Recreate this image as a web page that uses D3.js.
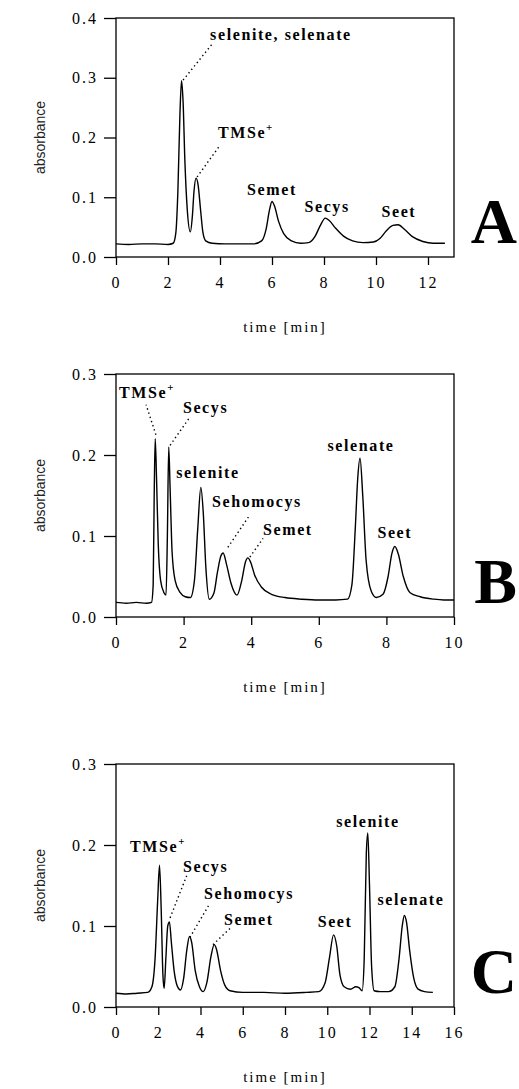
<!DOCTYPE html>
<html>
<head>
<meta charset="utf-8">
<script src="https://cdn.jsdelivr.net/npm/d3@7"></script>
<style>
  body { margin: 0; background: #fff; }
</style>
</head>
<body>
<script>
// ---- panel A : time [min] / absorbance
const aTime = [0, 0.5, 1.0, 1.5, 2.0, 2.2, 2.3, 2.38, 2.46, 2.52,
               2.58, 2.65, 2.74, 2.86, 2.94, 3.0, 3.08, 3.16, 3.25, 3.34,
               3.45, 3.7, 4.2, 4.8, 5.3, 5.6, 5.78, 5.9, 6.0, 6.1,
               6.25, 6.45, 6.75, 7.1, 7.4, 7.65, 7.85, 8.05, 8.2, 8.45,
               8.75, 9.1, 9.5, 9.9, 10.15, 10.4, 10.65, 10.85, 11.1, 11.4,
               11.8, 12.2, 12.65];
const aAbs  = [0.022, 0.021, 0.022, 0.022, 0.021, 0.023, 0.04, 0.11, 0.24, 0.295,
               0.26, 0.16, 0.08, 0.042, 0.07, 0.11, 0.132, 0.12, 0.08, 0.042,
               0.027, 0.023, 0.022, 0.022, 0.022, 0.027, 0.048, 0.078, 0.093, 0.085,
               0.06, 0.039, 0.027, 0.023, 0.024, 0.034, 0.052, 0.065, 0.061, 0.048,
               0.035, 0.027, 0.024, 0.025, 0.031, 0.044, 0.053, 0.054, 0.046, 0.034,
               0.026, 0.023, 0.023];

// ---- panel B
const bTime = [0, 0.3, 0.6, 0.9, 1.05, 1.1, 1.13, 1.16, 1.2, 1.25,
               1.32, 1.42, 1.48, 1.52, 1.56, 1.6, 1.66, 1.75, 1.9, 2.05,
               2.2, 2.32, 2.42, 2.51, 2.58, 2.66, 2.76, 2.9, 3.0, 3.1,
               3.17, 3.27, 3.4, 3.58, 3.72, 3.83, 3.9, 3.98, 4.1, 4.3,
               4.6, 5.0, 5.5, 6.0, 6.5, 6.85, 6.98, 7.08, 7.15, 7.22,
               7.3, 7.4, 7.55, 7.7, 7.9, 8.05, 8.16, 8.25, 8.35, 8.5,
               8.7, 9.0, 9.4, 9.7, 10.0];
const bAbs  = [0.018, 0.017, 0.018, 0.017, 0.018, 0.04, 0.15, 0.22, 0.17, 0.09,
               0.045, 0.03, 0.027, 0.1, 0.21, 0.16, 0.08, 0.045, 0.03, 0.025,
               0.024, 0.045, 0.11, 0.16, 0.13, 0.06, 0.022, 0.03, 0.055, 0.075,
               0.079, 0.065, 0.042, 0.027, 0.045, 0.068, 0.073, 0.068, 0.052, 0.037,
               0.028, 0.024, 0.022, 0.021, 0.021, 0.022, 0.04, 0.11, 0.17, 0.196,
               0.15, 0.07, 0.032, 0.024, 0.028, 0.05, 0.078, 0.087, 0.078, 0.05,
               0.03, 0.025, 0.022, 0.021, 0.021];

// ---- panel C
const cTime = [0, 0.5, 1.0, 1.5, 1.7, 1.85, 1.97, 2.06, 2.14, 2.22,
               2.28, 2.36, 2.45, 2.53, 2.62, 2.75, 2.9, 3.05, 3.2, 3.35,
               3.48, 3.58, 3.75, 3.95, 4.13, 4.3, 4.5, 4.65, 4.75, 4.95,
               5.15, 5.4, 6.0, 7.0, 8.0, 9.0, 9.6, 9.9, 10.1, 10.3,
               10.45, 10.6, 10.8, 11.1, 11.35, 11.5, 11.65, 11.75, 11.85, 11.92,
               12.0, 12.1, 12.22, 12.5, 12.9, 13.2, 13.4, 13.55, 13.65, 13.75,
               13.9, 14.1, 14.3, 14.6, 15.0];
const cAbs  = [0.017, 0.016, 0.017, 0.018, 0.025, 0.06, 0.13, 0.175, 0.12, 0.04,
               0.023, 0.06, 0.1, 0.105, 0.08, 0.045, 0.026, 0.021, 0.035, 0.07,
               0.087, 0.08, 0.045, 0.025, 0.019, 0.03, 0.063, 0.077, 0.072, 0.045,
               0.027, 0.02, 0.018, 0.018, 0.017, 0.018, 0.019, 0.03, 0.06, 0.089,
               0.075, 0.04, 0.025, 0.022, 0.025, 0.024, 0.02, 0.06, 0.19, 0.215,
               0.15, 0.05, 0.02, 0.019, 0.019, 0.025, 0.06, 0.1, 0.113, 0.105,
               0.07, 0.035, 0.022, 0.019, 0.018];

// axis ticks
const aYTicks = [0, 0.1, 0.2, 0.3, 0.4];
const bcYTicks = [0, 0.1, 0.2, 0.3];
const aXTicks = [0, 2, 4, 6, 8, 10, 12];
const bXTicks = [0, 2, 4, 6, 8, 10];
const cXTicks = [0, 2, 4, 6, 8, 10, 12, 14, 16];

// peak names: [text, x, y, anchor, leaderFrom, leaderTo] in data units
const aPeaks = [
  ["selenite, selenate", 3.62, 0.363, "start", [2.58, 0.296], [3.69, 0.356]],
  ["TMSe", 3.92, 0.199, "start", [3.12, 0.134], [4.0, 0.187]],
  ["Semet", 6.0, 0.104, "middle"],
  ["Secys", 8.12, 0.075, "middle"],
  ["Seet", 10.88, 0.067, "middle"]
];
const bPeaks = [
  ["TMSe", 0.09, 0.27, "start", [1.18, 0.225], [0.89, 0.262]],
  ["Secys", 1.98, 0.252, "start", [1.6, 0.212], [2.19, 0.247]],
  ["selenite", 1.78, 0.172, "start"],
  ["Sehomocys", 2.84, 0.136, "start", [3.31, 0.086], [3.96, 0.126]],
  ["Semet", 4.35, 0.101, "start", [3.96, 0.074], [4.35, 0.097]],
  ["selenate", 7.25, 0.205, "middle"],
  ["Seet", 8.25, 0.0975, "middle"]
];
const cPeaks = [
  ["TMSe", 0.66, 0.191, "start"],
  ["Secys", 3.17, 0.167, "start", [2.56, 0.11], [3.36, 0.163]],
  ["Sehomocys", 4.17, 0.133, "start", [3.5, 0.086], [4.4, 0.126]],
  ["Semet", 5.11, 0.101, "start", [4.59, 0.077], [5.4, 0.097]],
  ["Seet", 10.37, 0.099, "middle"],
  ["selenite", 11.93, 0.222, "middle"],
  ["selenate", 13.96, 0.126, "middle"]
];

const serif = "'Liberation Serif', 'Times New Roman', serif";
const ink = "#000";

const svg = d3.select("body").append("svg")
  .attr("width", 519)
  .attr("height", 1089);

function drawPanel(p) {
  const left = 116, right = 454;
  const xScale = d3.scaleLinear().domain([0, p.xMax]).range([left, right]);
  const yScale = d3.scaleLinear().domain([0, p.yMax]).range([p.bottom, p.top]);
  const g = svg.append("g");

  // frame
  g.append("rect")
    .attr("x", left).attr("y", p.top)
    .attr("width", right - left).attr("height", p.bottom - p.top)
    .attr("fill", "none").attr("stroke", ink).attr("stroke-width", 1.3);

  // y axis
  const ya = g.append("g")
    .attr("transform", `translate(${left},0)`)
    .call(d3.axisLeft(yScale).tickValues(p.yTicks).tickFormat(d3.format(".1f")).tickSize(12).tickPadding(6));
  ya.select(".domain").remove();

  // x axis
  const xa = g.append("g")
    .attr("transform", `translate(0,${p.bottom})`)
    .call(d3.axisBottom(xScale).tickValues(p.xTicks).tickSize(8).tickPadding(12));
  xa.select(".domain").remove();

  g.selectAll(".tick line").attr("stroke", ink).attr("stroke-width", 1.3);
  g.selectAll(".tick text")
    .attr("fill", ink)
    .style("font-family", serif)
    .style("font-size", "16px")
    .style("letter-spacing", "2px");

  // x axis label
  g.append("text")
    .attr("x", (left + right) / 2)
    .attr("y", p.bottom + 75)
    .attr("text-anchor", "middle")
    .attr("fill", ink)
    .style("font-family", serif)
    .style("font-size", "15px")
    .style("letter-spacing", "2px")
    .text("time [min]");

  // y axis label
  g.append("text")
    .attr("transform", `translate(45,${(p.top + p.bottom) / 2}) rotate(-90)`)
    .attr("text-anchor", "middle")
    .attr("fill", "#222")
    .style("font-family", "'Liberation Sans', Arial, sans-serif")
    .style("font-size", "14px")
    .text("absorbance");

  // chromatogram
  const line = d3.line()
    .x((d, i) => xScale(p.time[i]))
    .y(d => yScale(d))
    .curve(d3.curveMonotoneX);

  g.append("path")
    .datum(p.abs)
    .attr("d", line)
    .attr("fill", "none")
    .attr("stroke", ink)
    .attr("stroke-width", 1.4)
    .attr("stroke-linejoin", "round");

  // dotted leaders
  p.peaks.filter(d => d[4]).forEach(d => {
    g.append("line")
      .attr("x1", xScale(d[4][0])).attr("y1", yScale(d[4][1]))
      .attr("x2", xScale(d[5][0])).attr("y2", yScale(d[5][1]))
      .attr("stroke", ink)
      .attr("stroke-width", 1.4)
      .attr("stroke-dasharray", "1.4,3");
  });

  // peak names
  p.peaks.forEach(d => {
    const t = g.append("text")
      .attr("x", xScale(d[1]))
      .attr("y", yScale(d[2]))
      .attr("text-anchor", d[3])
      .attr("fill", ink)
      .style("font-family", serif)
      .style("font-weight", "bold")
      .style("font-size", "16px")
      .style("letter-spacing", "1.6px")
      .text(d[0]);
    if (d[0] === "TMSe") {
      t.append("tspan")
        .attr("dy", -7)
        .style("font-size", "11px")
        .text("+");
    }
  });

  // panel letter
  g.append("text")
    .attr("x", 517)
    .attr("y", p.bottom - 14)
    .attr("text-anchor", "end")
    .attr("fill", ink)
    .style("font-family", serif)
    .style("font-weight", "bold")
    .style("font-size", "64px")
    .text(p.letter);
}

drawPanel({ time: aTime, abs: aAbs, peaks: aPeaks, xMax: 13, yMax: 0.4,
            xTicks: aXTicks, yTicks: aYTicks, top: 18, bottom: 257, letter: "A" });
drawPanel({ time: bTime, abs: bAbs, peaks: bPeaks, xMax: 10, yMax: 0.3,
            xTicks: bXTicks, yTicks: bcYTicks, top: 374, bottom: 617, letter: "B" });
drawPanel({ time: cTime, abs: cAbs, peaks: cPeaks, xMax: 16, yMax: 0.3,
            xTicks: cXTicks, yTicks: bcYTicks, top: 764, bottom: 1007, letter: "C" });
</script>
</body>
</html>
